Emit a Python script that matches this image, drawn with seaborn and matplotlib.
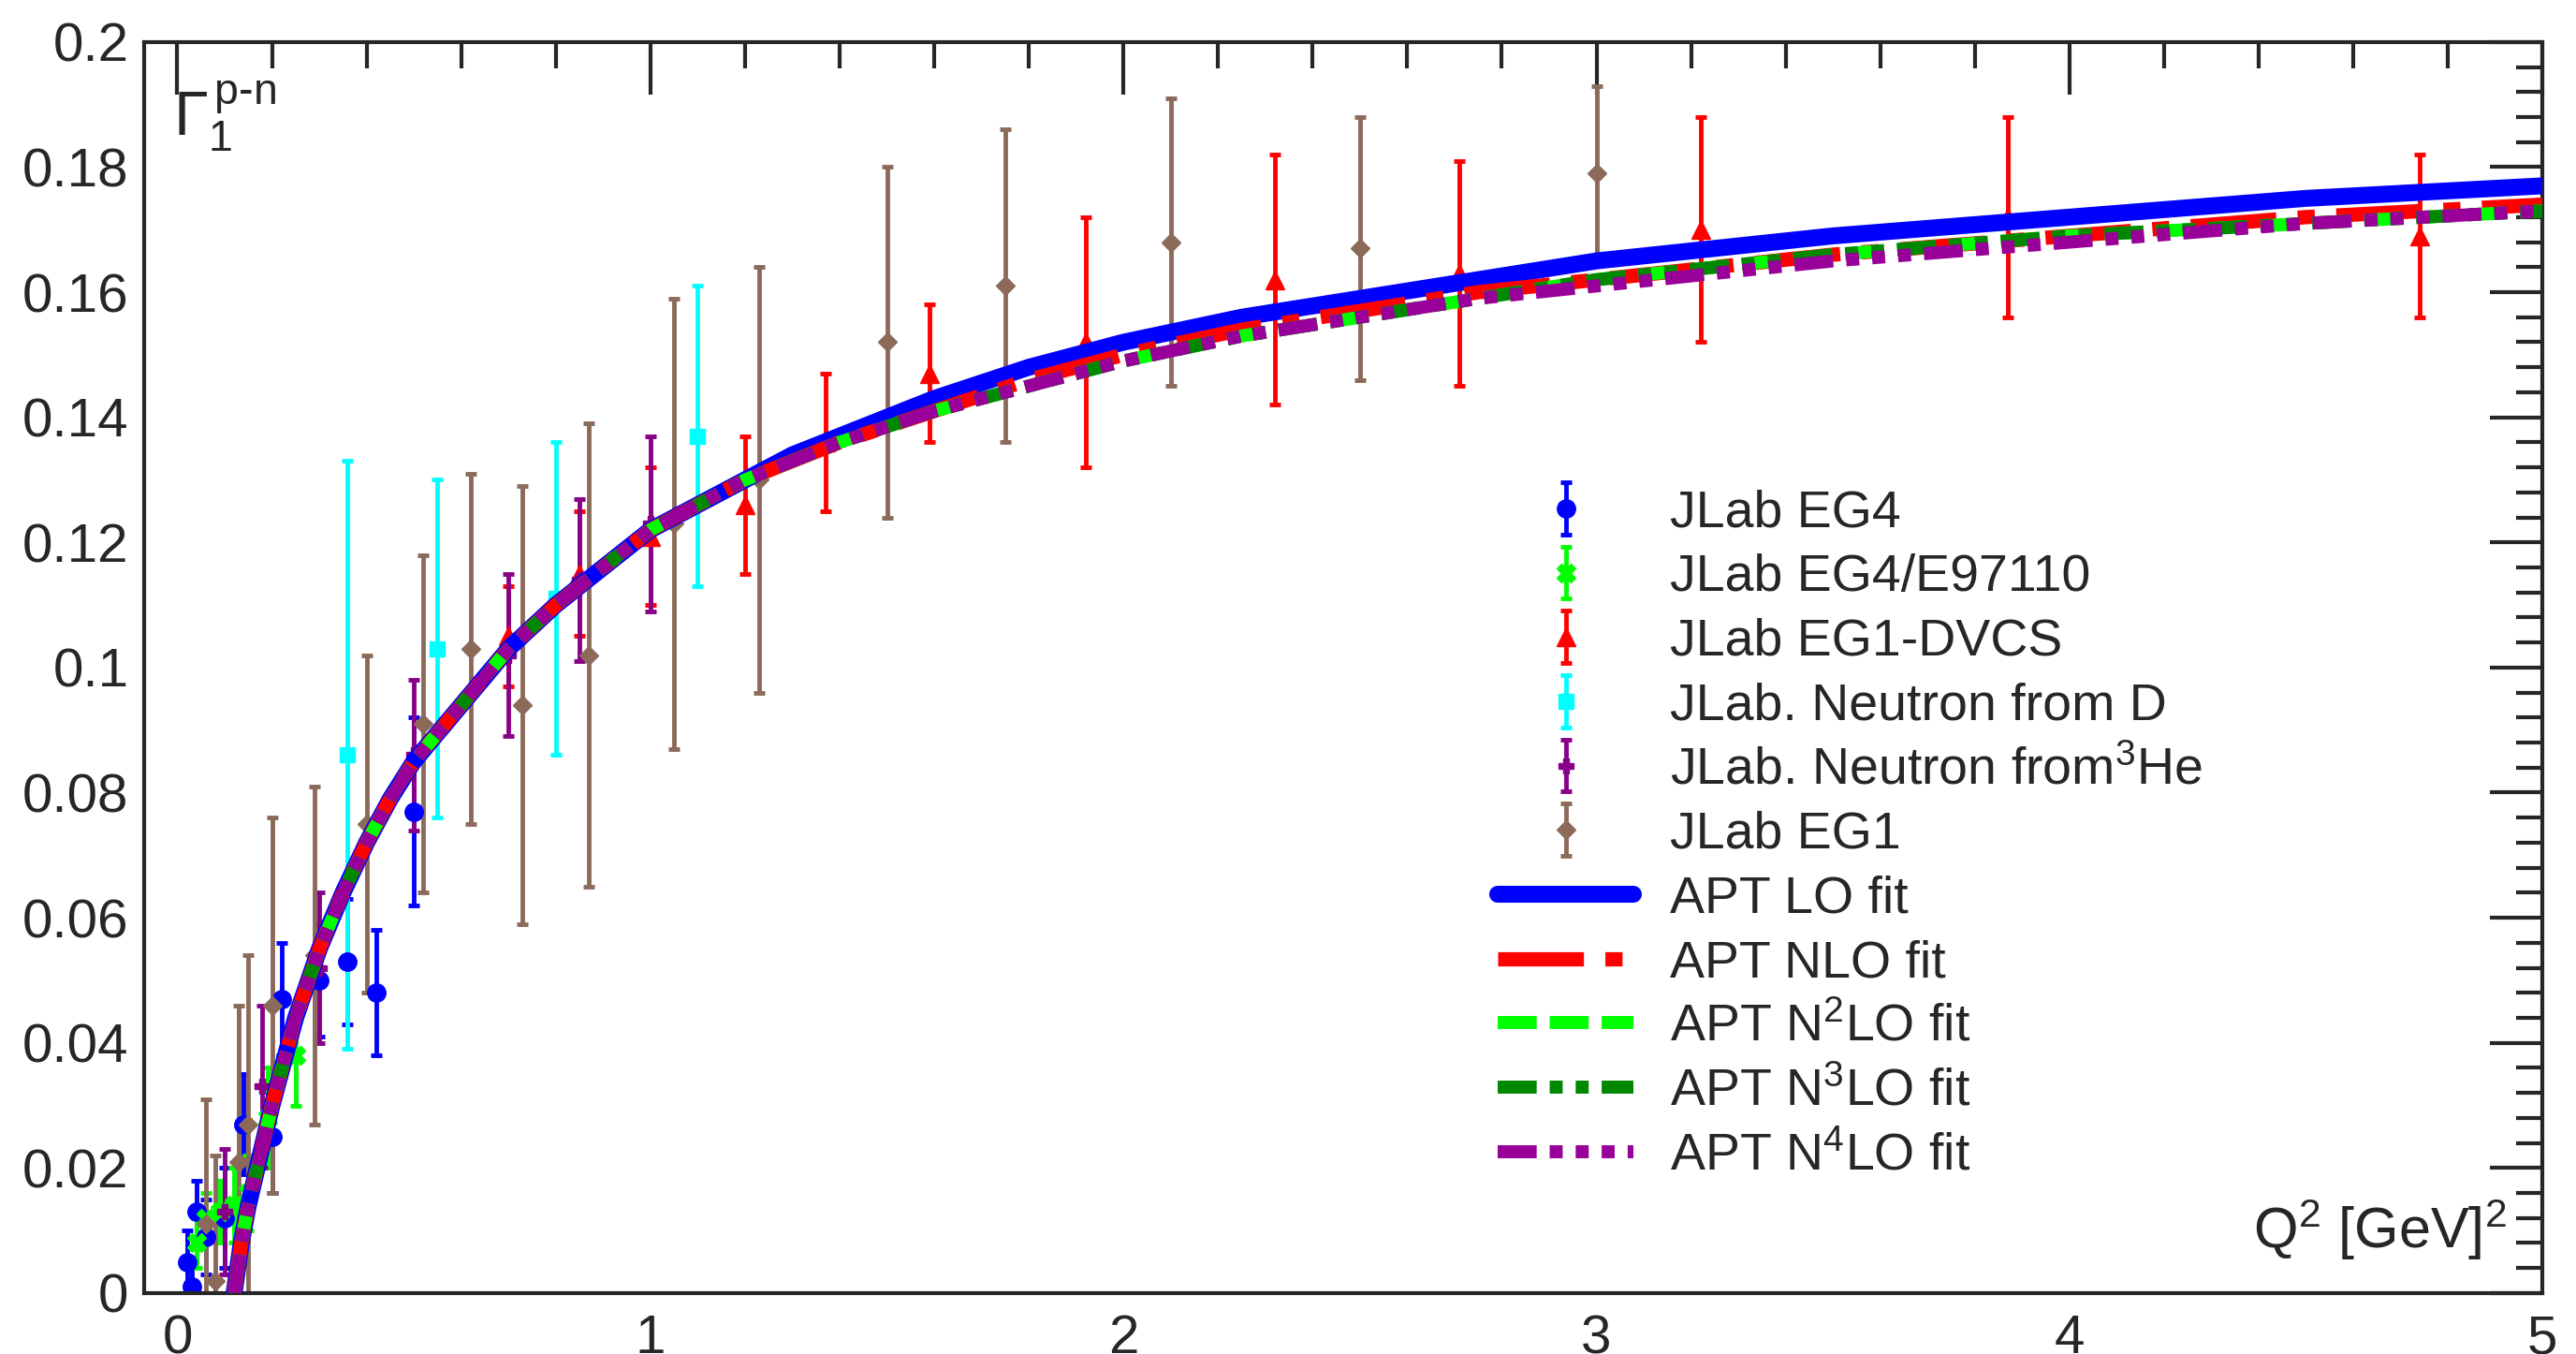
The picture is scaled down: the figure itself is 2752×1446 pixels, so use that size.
import numpy as np
import pandas as pd
import matplotlib
matplotlib.use("Agg")
import matplotlib.pyplot as plt
import seaborn as sns
from matplotlib.ticker import MultipleLocator

# ---- data ----
eg4_x = [0.02, 0.03, 0.04, 0.06, 0.10, 0.14, 0.20, 0.22, 0.30, 0.36, 0.42, 0.50]
eg4_y = [0.005, 0.001, 0.013, 0.009, 0.012, 0.027, 0.025, 0.047, 0.050, 0.053, 0.048, 0.077]
eg4_e = [0.005, 0.004, 0.005, 0.006, 0.008, 0.008, 0.009, 0.009, 0.009, 0.010, 0.010, 0.015]

e97_x = [0.04, 0.06, 0.09, 0.12, 0.15, 0.19, 0.25]
e97_y = [0.008, 0.012, 0.013, 0.014, 0.016, 0.028, 0.038]
e97_e = [0.004, 0.004, 0.005, 0.006, 0.006, 0.008, 0.008]

dvcs_x = [0.70, 0.85, 1.00, 1.20, 1.37, 1.59, 1.92, 2.32, 2.71, 3.22, 3.87, 4.74]
dvcs_y = [0.105, 0.115, 0.121, 0.126, 0.136, 0.147, 0.152, 0.162, 0.163, 0.170, 0.172, 0.169]
dvcs_e = [0.008, 0.010, 0.011, 0.011, 0.011, 0.011, 0.020, 0.020, 0.018, 0.018, 0.016, 0.013]

nd_x = [0.36, 0.55, 0.80, 1.10]
nd_y = [0.086, 0.103, 0.111, 0.137]
nd_e = [0.047, 0.027, 0.025, 0.024]

nhe_x = [0.10, 0.18, 0.30, 0.50, 0.70, 0.85, 1.00]
nhe_y = [0.013, 0.033, 0.052, 0.086, 0.102, 0.114, 0.123]
nhe_e = [0.010, 0.013, 0.012, 0.012, 0.013, 0.013, 0.014]

eg1_x = [0.06, 0.08, 0.13, 0.15, 0.20, 0.29, 0.40, 0.52, 0.62, 0.73, 0.87, 1.05, 1.23, 1.50, 1.75, 2.10, 2.50, 3.00]
eg1_y = [0.011, 0.002, 0.021, 0.027, 0.046, 0.054, 0.075, 0.091, 0.103, 0.094, 0.102, 0.123, 0.130, 0.152, 0.161, 0.168, 0.167, 0.179]
eg1_e = [0.020, 0.020, 0.025, 0.027, 0.030, 0.027, 0.027, 0.027, 0.028, 0.035, 0.037, 0.036, 0.034, 0.028, 0.025, 0.023, 0.021, 0.014]

fit_q2 = [0.12, 0.135, 0.15, 0.175, 0.20, 0.25, 0.30, 0.35, 0.40, 0.45, 0.50, 0.60, 0.70, 0.80, 0.90, 1.00, 1.10, 1.20, 1.30, 1.40, 1.60, 1.80, 2.00, 2.25, 2.50, 2.75, 3.00, 3.50, 4.00, 4.50, 5.00]
lo_fit = [0.000, 0.008, 0.014, 0.022, 0.030, 0.044, 0.055, 0.064, 0.072, 0.079, 0.085, 0.094, 0.103, 0.110, 0.116, 0.122, 0.126, 0.130, 0.134, 0.137, 0.143, 0.148, 0.152, 0.156, 0.159, 0.162, 0.165, 0.169, 0.172, 0.175, 0.177]
nlo_fit = [0.000, 0.008, 0.014, 0.022, 0.030, 0.044, 0.055, 0.064, 0.072, 0.079, 0.085, 0.094, 0.103, 0.110, 0.116, 0.122, 0.126, 0.130, 0.133, 0.136, 0.141, 0.146, 0.150, 0.154, 0.157, 0.160, 0.162, 0.166, 0.169, 0.172, 0.174]
n2lo_fit = [0.000, 0.008, 0.014, 0.022, 0.030, 0.044, 0.055, 0.064, 0.072, 0.079, 0.085, 0.094, 0.103, 0.110, 0.116, 0.122, 0.126, 0.130, 0.133, 0.136, 0.141, 0.145, 0.149, 0.153, 0.156, 0.159, 0.162, 0.166, 0.169, 0.171, 0.173]
n3lo_fit = n2lo_fit
n4lo_fit = [0.000, 0.008, 0.014, 0.022, 0.030, 0.044, 0.055, 0.064, 0.072, 0.079, 0.085, 0.094, 0.103, 0.110, 0.116, 0.122, 0.126, 0.130, 0.133, 0.136, 0.141, 0.145, 0.149, 0.153, 0.156, 0.159, 0.161, 0.165, 0.168, 0.171, 0.173]

sns.set_style("white")
plt.rcParams["font.family"] = "Liberation Sans"
plt.rcParams["mathtext.fontset"] = "custom"
plt.rcParams["mathtext.rm"] = "Liberation Sans"
plt.rcParams["mathtext.it"] = "Liberation Sans"
plt.rcParams["mathtext.default"] = "regular"

fig = plt.figure(figsize=(27.52, 14.46), dpi=100)
ax = fig.add_axes([0.056, 0.045, 0.931, 0.924])

fits = [("APT LO fit", lo_fit, "#0000ff", "-", 13),
        ("APT NLO fit", nlo_fit, "#ff0000", (0, (6, 1.5, 1.2, 1.5)), 11),
        ("APT N$^2$LO fit", n2lo_fit, "#00ff00", (0, (3, 1)), 10),
        ("APT N$^3$LO fit", n3lo_fit, "#008800", (0, (3, 1, 1, 1, 1, 1)), 10),
        ("APT N$^4$LO fit", n4lo_fit, "#990099", (0, (3, 1, 1, 1, 1, 1, 1, 1)), 10)]
data_sets = [("JLab EG4", eg4_x, eg4_y, eg4_e, "#0000ff", "o", 14),
             ("JLab EG4/E97110", e97_x, e97_y, e97_e, "#00ff00", "X", 14),
             ("JLab EG1-DVCS", dvcs_x, dvcs_y, dvcs_e, "#ff0000", "^", 14),
             ("JLab. Neutron from D", nd_x, nd_y, nd_e, "#00ffff", "s", 12),
             ("JLab. Neutron from$^3$He", nhe_x, nhe_y, nhe_e, "#880088", "P", 12),
             ("JLab EG1", eg1_x, eg1_y, eg1_e, "#8b6a5a", "D", 10)]

for lab, x, y, e, c, m, ms in data_sets:
    ax.errorbar(x, y, yerr=e, fmt=m, color=c, ms=ms, elinewidth=3.5, capsize=4, capthick=3.5, label=lab, zorder=2)

for lab, y, c, ls, lw in fits:
    df = pd.DataFrame({"q2": fit_q2, "g": y})
    sns.lineplot(data=df, x="q2", y="g", ax=ax, color=c, lw=lw, linestyle=ls, label=lab, zorder=3)

ax.set_xlim(-0.07, 5)
ax.set_ylim(0, 0.2)
ax.set_xlabel("")
ax.set_ylabel("")
ax.xaxis.set_major_locator(MultipleLocator(1))
ax.xaxis.set_minor_locator(MultipleLocator(0.2))
ax.set_yticks(np.arange(0, 0.201, 0.02))
ax.set_yticklabels(["0", "0.02", "0.04", "0.06", "0.08", "0.1", "0.12", "0.14", "0.16", "0.18", "0.2"])
ax.yaxis.set_minor_locator(MultipleLocator(0.004))
ax.tick_params(which="both", direction="in", top=True, right=True, labelsize=42, width=3)
ax.tick_params(which="major", length=40)
ax.tick_params(which="minor", length=20)
ax.tick_params(axis="x", pad=16)
ax.tick_params(axis="y", pad=12)
for s in ax.spines.values():
    s.set_linewidth(3)
ax.text(0.012, 0.97, r"$\Gamma_1^{\,p\text{-}n}$", transform=ax.transAxes, fontsize=48, va="top", ha="left")
ax.text(0.985, 0.025, r"Q$^2$ [GeV]$^2$", transform=ax.transAxes, fontsize=44, va="bottom", ha="right")
h, l = ax.get_legend_handles_labels()
order = [l.index(d[0]) for d in data_sets] + [l.index(f[0]) for f in fits]
ax.legend([h[i] for i in order], [l[i] for i in order], loc="upper left", bbox_to_anchor=(0.545, 0.68),
          frameon=False, fontsize=40, handlelength=2.6, labelspacing=0.3, handletextpad=0.7)
fig.savefig("out.png", dpi=100)
